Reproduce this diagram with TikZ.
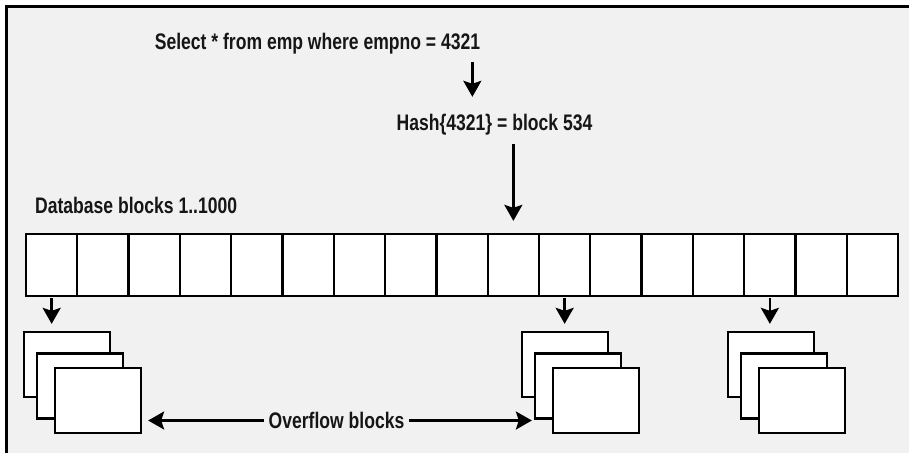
\documentclass[tikz,border=0pt]{standalone}
\usepackage{fontspec}
\usepackage{xcolor}
\usepackage{tikz}
\usetikzlibrary{calc,arrows.meta}
\newfontfamily\hashfont[FakeStretch=0.78]{Liberation Sans}
\definecolor{hbpaper}{HTML}{F1F1F1}
\definecolor{hbink}{HTML}{161616}

\begin{document}
\begin{tikzpicture}[x=1pt,y=1pt,
  lbl/.style={inner sep=0pt,text height=16pt,text depth=0pt,font=\hashfont\bfseries\fontsize{22.5}{26}\selectfont,text=hbink},
  cell/.style={draw=black,line width=2.3pt,fill=white,minimum width=51.3pt,minimum height=62pt,inner sep=0pt},
  page/.style={draw=black,line width=2.3pt,fill=white,minimum width=86pt,minimum height=65pt,inner sep=0pt},
  arr/.style={-{Stealth[length=16pt,width=18pt,inset=3pt]},line width=2.4pt,black}]
\useasboundingbox (0,0) rectangle (909,453);
\fill[hbpaper] (6,0) rectangle (909,446.5);
\draw[line width=3pt] (6,0) -- (6,446.5) -- (909,446.5);
\node[lbl,anchor=base] (query) at (317.5,403) {Select * from emp where empno = 4321};
\node[lbl,anchor=base] (hash) at (494.5,322) {Hash\{4321\} = block 534};
\node[lbl,anchor=base west] (dblabel) at (35,240) {Database blocks 1..1000};
\foreach \i in {1,...,17} \node[cell] (c\i) at ({26+51.3*(\i-0.5)},188) {};
\foreach \n/\x in {s1/24,s2/522,s3/728} {\node[page] (\n a) at (\x+43,88.5) {};\node[page] (\n b) at (\x+56,67) {};\node[page] (\n c) at (\x+74,52.5) {};}
\node[lbl,inner xsep=5pt] (ovf) at (336.5,32.5) {Overflow blocks};
\draw[arr,shorten >=18pt] ([xshift=-8pt,yshift=-12pt]query.south east) -- ([xshift=-8pt]query.south east |- hash.north);
\draw[arr,shorten <=13pt,shorten >=12pt] (hash.south -| c10.north) -- (c10.north);
\draw[arr,shorten <=1pt,shorten >=7pt] (c1.south) -- (c1.south |- s1a.north);\draw[arr,shorten <=1pt,shorten >=7pt] (c11.south) -- (c11.south |- s2a.north);\draw[arr,shorten <=1pt,shorten >=7pt] (c15.south) -- (c15.south |- s3a.north);
\draw[arr,shorten >=6pt] (ovf.west) -- (s1c.east |- ovf.west);\draw[arr,shorten >=2pt] (ovf.east) -- (s2b.west |- ovf.east);
\end{tikzpicture}
\end{document}
